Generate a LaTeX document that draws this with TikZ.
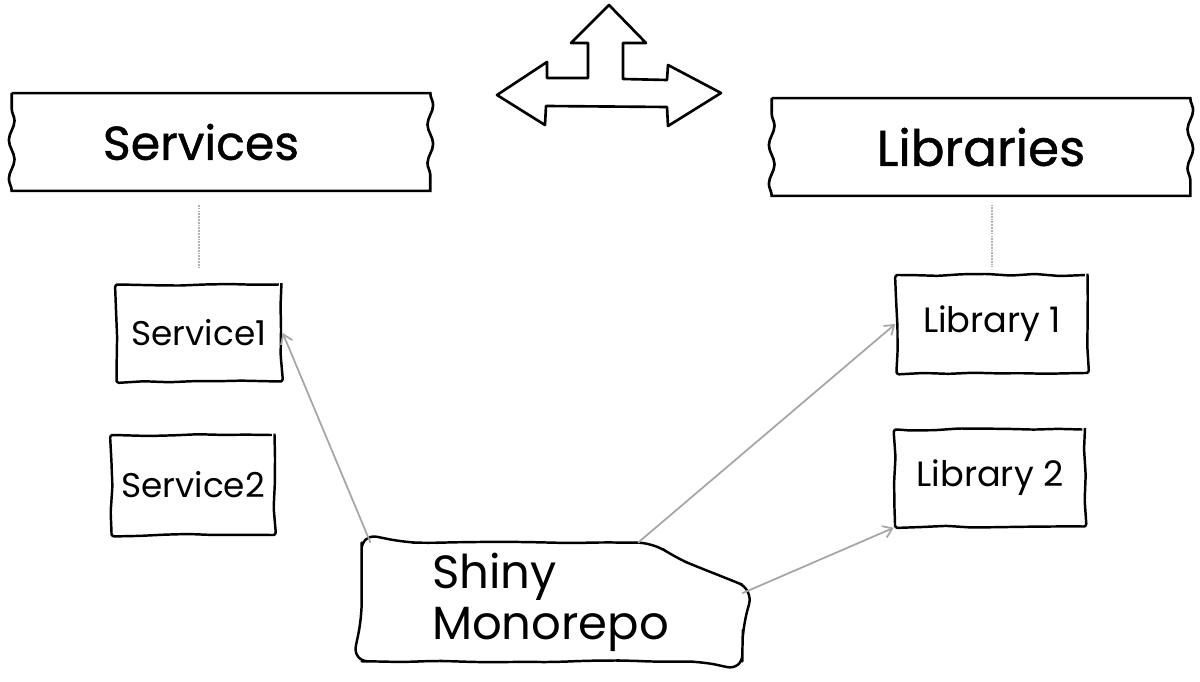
\documentclass[tikz,border=0pt]{standalone}
\usepackage{fontspec}
\setmainfont{Poppins}
\newfontfamily\headfont{Poppins}[FakeBold=0.9]
\usetikzlibrary{arrows.meta, calc, decorations.pathmorphing}

\begin{document}
\begin{tikzpicture}[x=0.02cm, y=-0.02cm,
  sketch/.style={draw, line width=1.4pt, line join=round, decorate,
    decoration={random steps, segment length=14pt, amplitude=0.6pt}, rounded corners=1.5pt},
  torn/.style={decoration={snake, amplitude=1.6pt, segment length=22pt}},
  heading/.style={minimum width=8.36cm, minimum height=1.94cm},
  item/.style={sketch, font=\fontsize{19.5}{22}\selectfont},
  link/.style={draw=gray!70, line width=1pt, -{Straight Barb[length=5pt, width=7pt]}},
  tie/.style={draw=gray!60, line width=1.5pt, dash pattern=on 1pt off 0.6pt}]
\pgfmathsetseed{7}
\useasboundingbox (0,0) rectangle (1200,682);

% Direction sign
\draw[line width=1.5pt, line join=round]
  (609,5) -- (646,43) -- (623,43) -- (623,79) -- (667,80) -- (668,65) -- (721,93)
  -- (668,126) -- (667,107) -- (546,106) -- (545,125) -- (497,95) -- (547,62)
  -- (547,78) -- (588,78) -- (588,43) -- (571,43) -- cycle;

% Services
\node[heading, font=\headfont\fontsize{27}{30}\selectfont] (services) at (221,142)
  {\hspace*{-0.8cm}Services};
\draw[line width=1.5pt] (services.north west) -- (services.north east)
  decorate[torn]{-- (services.south east)} -- (services.south west)
  decorate[torn]{-- (services.north west)};

% Libraries
\node[heading, font=\headfont\fontsize{28.5}{30}\selectfont] (libraries) at (981,147)
  {Libraries};
\draw[line width=1.5pt] (libraries.north west) -- (libraries.north east)
  decorate[torn]{-- (libraries.south east)} -- (libraries.south west)
  decorate[torn]{-- (libraries.north west)};

% Service boxes
\node[item, minimum width=3.3cm, minimum height=1.94cm] (svc1) at (199,333) {Service1};
\node[item, minimum width=3.26cm, minimum height=2cm] (svc2) at (193,485) {Service2};

% Library boxes
\node[item, minimum width=3.82cm, minimum height=1.96cm, font=\fontsize{20}{22}\selectfont]
  (lib1) at (992,324) {Library 1};
\node[item, minimum width=3.8cm, minimum height=1.94cm, font=\fontsize{20}{22}\selectfont]
  (lib2) at (990,478) {Library 2};

% Monorepo
\node[text width=4.8cm, inner xsep=1.4cm, minimum height=2.36cm, align=left,
  font=\fontsize{26.5}{29}\selectfont] (mono) at (552,602) {Shiny\\Monorepo};
\coordinate (kink) at ($(mono.north west)!0.726!(mono.north east)$);
\draw[sketch, rounded corners=9pt] (mono.west) -- (mono.north west) -- (kink)
  -- ($(mono.north east)+(0,42)$) -- (mono.south east) -- (mono.south west) -- cycle;

% Ties
\draw[tie, shorten <=8pt, shorten >=9pt] (services.south -| svc1.north) -- (svc1.north);
\draw[tie, shorten <=5pt, shorten >=4pt] (libraries.south -| lib1.north) -- (lib1.north);

% Links
\draw[link] ([xshift=5pt]mono.north west) -- (svc1.east);
\draw[link] (kink) -- (lib1.west);
\draw[link] ([yshift=5pt]mono.east) -- (lib2.south west);
\end{tikzpicture}
\end{document}
